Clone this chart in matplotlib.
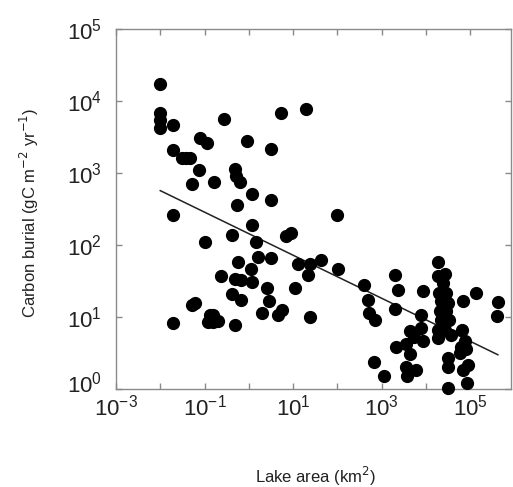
import numpy as np
import matplotlib
matplotlib.use("Agg")
import matplotlib.pyplot as plt
import matplotlib.transforms as mtransforms

plt.rcParams["font.family"] = ["Liberation Sans", "DejaVu Sans"]

# log10 of lake area (km2) and carbon burial (gC m-2 yr-1)
log_area = [
    -2.0, -2.0, -2.0, -2.0, -1.71, -1.71, -1.71, -1.71, -1.52, -1.42,
    -1.32, -1.29, -1.12, -1.11, -0.95, -0.98, -0.79, -0.56, -0.63, -1.28,
    -1.22, -0.38, -0.38, -0.32, -0.88, -0.80, -0.92, -0.80, -0.69, -0.32,
    -0.28, -0.20, -0.26, -0.24, -0.32, -0.17, -0.18, -0.05, 0.075, 0.06,
    0.16, 0.045, 0.06, 0.20, 0.29, 0.42, 0.45, 0.51, 0.51, 0.51,
    0.72, 0.65, 0.74, 0.85, 0.96, 1.04, 1.11, 1.30, 1.38, 1.34,
    1.39, 1.64, 2.02, 2.0,
    2.59, 2.69, 2.71, 2.84, 2.82, 3.05, 3.29, 3.37, 3.29, 3.33,
    3.56, 3.63, 3.74, 3.63, 3.54, 3.57, 3.78, 3.93, 3.89, 3.89,
    3.93,
    4.27, 4.27, 4.42, 4.38, 4.29, 4.46, 4.35, 4.50, 4.31, 4.46,
    4.35, 4.53, 4.27, 4.42, 4.27, 4.57, 4.50, 4.50, 4.50,
    4.83, 4.82, 4.87, 4.80, 4.76, 4.91, 4.95, 4.83, 4.92, 5.12,
    5.62, 5.60,
]
log_burial = [
    4.23, 3.84, 3.74, 3.63, 3.67, 3.32, 2.42, 0.91, 3.21, 3.21,
    3.21, 2.85, 3.04, 3.49, 3.41, 2.04, 2.875, 3.75, 1.57, 1.16,
    1.19, 2.14, 1.32, 0.89, 1.03, 1.03, 0.93, 0.93, 0.94, 3.05,
    2.96, 2.87, 2.55, 1.76, 1.53, 1.52, 1.24, 3.45, 2.71, 2.28,
    2.04, 1.66, 1.48, 1.84, 1.06, 1.40, 1.22, 1.82, 3.34, 2.63,
    3.83, 1.03, 1.10, 2.12, 2.17, 1.40, 1.73, 3.89, 1.74, 1.59,
    1.00, 1.79, 1.66, 2.42,
    1.45, 1.23, 1.06, 0.96, 0.37, 0.185, 1.59, 1.37, 1.11, 0.59,
    0.62, 0.80, 0.72, 0.48, 0.31, 0.18, 0.27, 1.36, 1.03, 0.85,
    0.66,
    1.77, 1.575, 1.60, 1.47, 1.34, 1.34, 1.22, 1.19, 1.08, 1.08,
    0.96, 0.96, 0.82, 0.82, 0.71, 0.755, 0.43, 0.31, 0.01,
    1.22, 0.82, 0.66, 0.59, 0.50, 0.55, 0.34, 0.27, 0.08, 1.33,
    1.21, 1.02,
]

# fitted power law (log10 intercept and slope) and its extent
fit_intercept = 2.157
fit_slope = -0.299
fit_area = [1e-2, 4.2e5]

x_ticks = [1e-3, 1e-2, 1e-1, 1e0, 1e1, 1e2, 1e3, 1e4, 1e5]
x_tick_labels = [r"$\mathdefault{10^{-3}}$", "", r"$\mathdefault{10^{-1}}$", "",
                 r"$\mathdefault{10^{1}}$", "", r"$\mathdefault{10^{3}}$", "",
                 r"$\mathdefault{10^{5}}$"]
y_ticks = [1e0, 1e1, 1e2, 1e3, 1e4, 1e5]
y_tick_labels = [r"$\mathdefault{10^{0}}$", r"$\mathdefault{10^{1}}$",
                 r"$\mathdefault{10^{2}}$", r"$\mathdefault{10^{3}}$",
                 r"$\mathdefault{10^{4}}$", r"$\mathdefault{10^{5}}$"]

area = 10.0 ** np.array(log_area)
burial = 10.0 ** np.array(log_burial)
fit_x = np.array(fit_area)
fit_y = 10.0 ** (fit_intercept + fit_slope * np.log10(fit_x))

fig = plt.figure(figsize=(5.13, 4.87), dpi=100)
ax = fig.add_axes([116 / 513, 1 - 389 / 487, 395 / 513, 360 / 487])

ax.plot(area, burial, "o", color="black", markersize=8.5, clip_on=False, zorder=3)
ax.plot(fit_x, fit_y, "-", color="#222222", lw=1.1, zorder=2)

ax.set_xscale("log")
ax.set_yscale("log")
ax.set_xlim(1e-3, 10 ** 5.92)
ax.set_ylim(1e0, 1e5)
ax.set_xticks(x_ticks, x_tick_labels)
ax.set_yticks(y_ticks, y_tick_labels)
ax.minorticks_off()

ax.tick_params(direction="in", top=True, right=True, length=4, width=1,
               color="#8a8a8a", labelsize=16, labelcolor="#222222")
ax.tick_params(axis="x", pad=4)
ax.tick_params(axis="y", pad=10)
for sp in ax.spines.values():
    sp.set_color("#8a8a8a")
    sp.set_linewidth(1)

# lift the bottom y label a little so it clears the first x label
lbl0 = ax.get_yticklabels()[0]
lbl0.set_transform(lbl0.get_transform() +
                   mtransforms.ScaledTranslation(0, 5 / 72, fig.dpi_scale_trans))

ax.set_xlabel(r"Lake area (km$^{2}$)", fontsize=12, color="#222222")
ax.set_ylabel(r"Carbon burial (gC m$^{-2}$ yr$^{-1}$)", fontsize=12, color="#222222")
ax.xaxis.set_label_coords(0.504, -0.21)
ax.yaxis.set_label_coords(-0.19, 0.49)

fig.savefig("out.png", dpi=100)
